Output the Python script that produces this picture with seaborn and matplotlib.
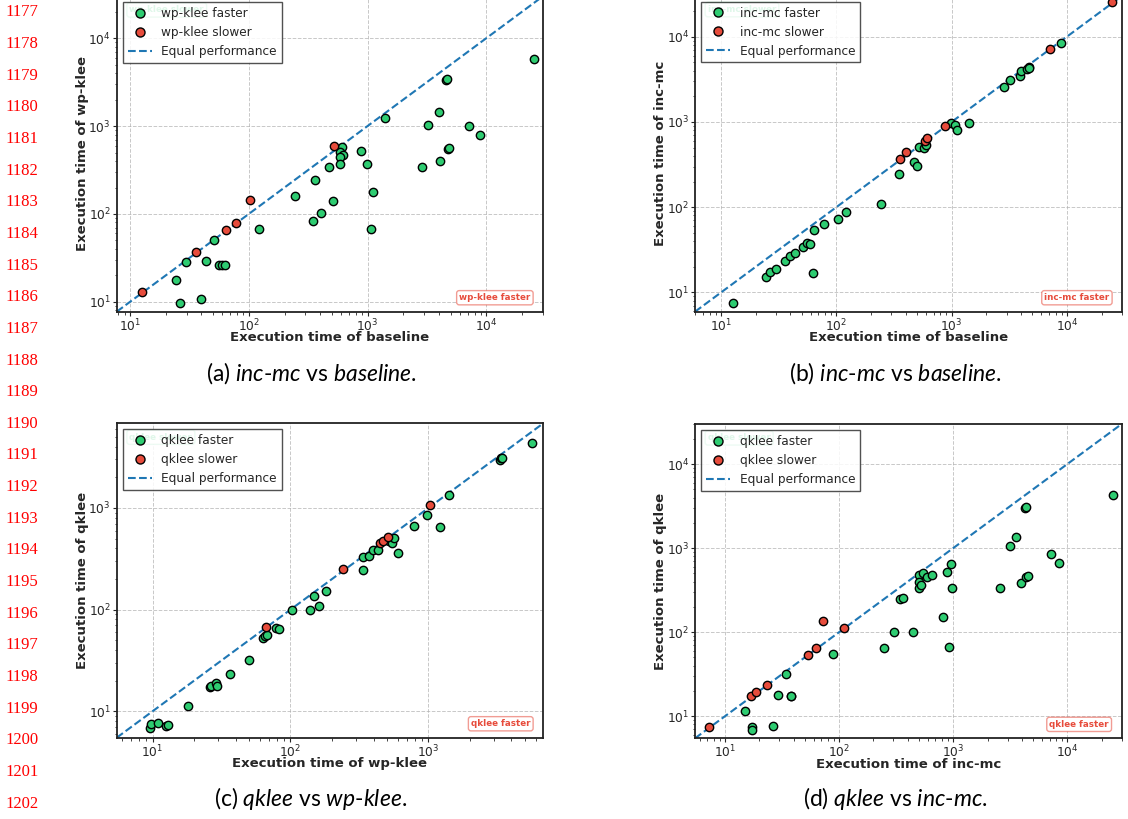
import matplotlib
matplotlib.use("Agg")
import matplotlib.pyplot as plt
from matplotlib.lines import Line2D
import seaborn as sns
import pandas as pd

# ---------------- data ----------------
# (a) wp-klee vs baseline
a_fast_x = [26.3, 39.3, 24.4, 29.9, 44.0, 51.2, 56.4, 59.3, 62.9, 121, 247, 361, 349, 405, 508, 476,
            605, 585, 621, 585, 582, 879, 993, 1117, 1074, 1416, 2877, 3213, 3975, 4105, 4580, 4670,
            4730, 4820, 7195, 8850, 25180]
a_fast_y = [9.66, 10.9, 17.9, 28.7, 29.2, 50.1, 26.3, 26.0, 26.3, 67.4, 161, 243, 82.4, 102, 140, 340,
            574, 508, 470, 450, 375, 517, 368, 180, 67.4, 1236, 338, 1040, 1435, 402, 3365, 3460,
            550, 560, 995, 793, 5780]
a_slow_x = [12.6, 36.1, 64.6, 78.3, 102.6, 521]
a_slow_y = [12.9, 37.0, 65.5, 79.8, 146, 600]

# (b) inc-mc vs baseline
b_fast_x = [12.6, 24.4, 26.4, 30.0, 36.1, 39.4, 44.1, 51.4, 56.1, 59.6, 62.8, 64.5, 78.7, 102.8, 121.4,
            245, 347, 475, 504, 517, 580, 603, 993, 1069, 1120, 1413, 2863, 3185, 3940, 4015, 4470,
            4650, 4710, 8810]
b_fast_y = [7.44, 15.1, 17.5, 18.9, 23.3, 26.7, 28.9, 34.3, 38.2, 37.5, 17.0, 53.4, 63.2, 72.9, 88.1,
            109, 244, 340, 305, 510, 500, 537, 982, 922, 813, 964, 2595, 3135, 3490, 3926, 4220,
            4415, 4340, 8430]
b_slow_x = [359, 404, 583, 615, 875, 7130, 24800]
b_slow_y = [370, 445, 595, 649, 890, 7250, 25200]

# (c) qklee vs wp-klee
c_fast_x = [9.57, 9.68, 10.98, 12.5, 12.97, 17.97, 26.2, 26.6, 28.8, 29.3, 36.5, 50.0, 63.4, 65.9, 67.7,
            78.7, 82.2, 101.9, 139, 147, 160, 180, 335, 337, 374, 397, 434, 518, 544, 566, 598, 780,
            984, 1220, 1409, 3281, 3373, 3411, 5675]
c_fast_y = [6.87, 7.51, 7.63, 7.23, 7.40, 11.37, 17.2, 17.6, 18.8, 17.9, 23.2, 31.8, 52.7, 54.8, 56.0,
            65.6, 64.6, 100, 100, 136, 109, 152, 333, 248, 336, 385, 390, 471, 457, 508, 360, 667,
            853, 646, 1340, 2979, 3070, 3090, 4335]
c_slow_x = [66.5, 241.6, 446, 471, 512, 1028]
c_slow_y = [68.0, 252, 454, 478, 524, 1069]

# (d) qklee vs inc-mc
d_fast_x = [15.0, 17.4, 17.4, 26.5, 29.0, 34.3, 37.7, 38.1, 88.1, 245.6, 304, 341, 367, 445, 499, 499,
            499, 519, 541, 589, 651, 807, 881, 916, 967, 979, 2588, 3120, 3520, 3920, 4246, 4362,
            4390, 4507, 7160, 8400, 25000]
d_fast_y = [11.5, 7.48, 6.83, 7.62, 17.7, 31.7, 17.2, 17.6, 55.7, 65.0, 100, 250, 252, 100, 481, 397,
            340, 360, 512, 451, 481, 151, 521, 67.5, 649, 337, 334, 1069, 1343, 383, 3013, 3098,
            459, 468, 851, 667, 4335]
d_slow_x = [7.25, 16.8, 18.7, 23.2, 53.0, 63.4, 72.9, 109.8]
d_slow_y = [7.4, 17.2, 19.2, 23.6, 54.0, 65.6, 136, 111]

tool_names = ["wp-klee", "inc-mc", "qklee", "qklee"]
x_labels = ["Execution time of baseline", "Execution time of baseline",
            "Execution time of wp-klee", "Execution time of inc-mc"]
y_labels = ["Execution time of wp-klee", "Execution time of inc-mc",
            "Execution time of qklee", "Execution time of qklee"]
captions = [r"(a) $\mathit{inc}$-$\mathit{mc}$ vs $\mathit{baseline}$.",
            r"(b) $\mathit{inc}$-$\mathit{mc}$ vs $\mathit{baseline}$.",
            r"(c) $\mathit{qklee}$ vs $\mathit{wp}$-$\mathit{klee}$.",
            r"(d) $\mathit{qklee}$ vs $\mathit{inc}$-$\mathit{mc}$."]
line_numbers = list(range(1177, 1203))

# ---------------- style ----------------
sns.set_style("ticks")
plt.rcParams["font.family"] = ["DejaVu Sans"]
plt.rcParams["mathtext.fontset"] = "custom"
plt.rcParams["mathtext.rm"] = "Lato"
plt.rcParams["mathtext.it"] = "Lato:italic"

GREEN = "#2ecc71"
RED = "#e74c3c"
BLUE = "#1f77b4"

W, H = 1128, 819
fig = plt.figure(figsize=(W / 100, H / 100), dpi=100)


def px_axes(left, top, right, bottom):
    return fig.add_axes([left / W, (H - bottom) / H, (right - left) / W, (bottom - top) / H])


boxes = [(116.7, -4.0, 543.3, 311.7), (695.0, -4.3, 1122.3, 311.7),
         (116.7, 423.3, 543.3, 737.7), (695.0, 424.0, 1121.7, 738.3)]
panels = [(a_fast_x, a_fast_y, a_slow_x, a_slow_y),
          (b_fast_x, b_fast_y, b_slow_x, b_slow_y),
          (c_fast_x, c_fast_y, c_slow_x, c_slow_y),
          (d_fast_x, d_fast_y, d_slow_x, d_slow_y)]

for i, (box, (fx, fy, sx, sy)) in enumerate(zip(boxes, panels)):
    ax = px_axes(*box)
    name = tool_names[i]
    allv = fx + fy + sx + sy
    lo, hi = min(allv) * 0.8, max(allv) * 1.2
    ax.set_xscale("log")
    ax.set_yscale("log")

    ax.plot([lo, hi], [lo, hi], ls="--", color=BLUE, lw=1.5, zorder=1)
    df_f = pd.DataFrame({"x": fx, "y": fy})
    df_s = pd.DataFrame({"x": sx, "y": sy})
    sns.scatterplot(data=df_f, x="x", y="y", ax=ax, color=GREEN, edgecolor="black",
                    linewidth=1.0, s=36, zorder=3)
    sns.scatterplot(data=df_s, x="x", y="y", ax=ax, color=RED, edgecolor="black",
                    linewidth=1.0, s=36, zorder=3)
    ax.set_xlim(lo, hi)
    ax.set_ylim(lo, hi)

    ax.grid(True, which="major", ls="--", lw=0.7, color="#b0b0b0", alpha=0.7)
    for sp in ax.spines.values():
        sp.set_linewidth(1.3)
        sp.set_color("#222222")
    ax.tick_params(which="major", length=3.0, width=0.8, labelsize=8.8, pad=1.2)
    ax.tick_params(which="minor", length=1.8, width=0.6)
    ax.set_xlabel(x_labels[i], fontsize=9.5, fontweight="bold")
    ax.set_ylabel(y_labels[i], fontsize=9.5, fontweight="bold")
    ax.xaxis.set_label_coords(0.5, -0.062)
    ax.yaxis.set_label_coords(-0.066, 0.5)

    ax.text(0.97, 0.03, f"{name} faster", transform=ax.transAxes, ha="right", va="bottom",
            fontsize=6.3, fontweight="bold", color=RED, zorder=4,
            bbox=dict(boxstyle="round,pad=0.3", fc="white", ec=(0.906, 0.298, 0.235, 0.55), lw=1))
    ax.text(0.03, 0.97, f"{name} slower", transform=ax.transAxes, ha="left", va="top",
            fontsize=6.3, fontweight="bold", color=GREEN, zorder=4,
            bbox=dict(boxstyle="round,pad=0.3", fc="white", ec=(0.18, 0.8, 0.44, 0.55), lw=1))

    handles = [
        Line2D([], [], ls="none", marker="o", markersize=6.5, markerfacecolor=GREEN,
               markeredgecolor="black", markeredgewidth=1.0),
        Line2D([], [], ls="none", marker="o", markersize=6.5, markerfacecolor=RED,
               markeredgecolor="black", markeredgewidth=1.0),
        Line2D([], [], ls="--", color=BLUE, lw=1.5),
    ]
    leg = ax.legend(handles, [f"{name} faster", f"{name} slower", "Equal performance"],
                    loc="upper left", fontsize=8.7, fancybox=False, framealpha=0.85,
                    edgecolor="#333333")
    leg.get_frame().set_linewidth(1.0)
    leg.set_zorder(10)

# captions (baseline positions in pixels)
cap_pos = [(312, 381), (895, 381), (311, 806), (895, 806)]
for (cx, cy), cap in zip(cap_pos, captions):
    fig.text(cx / W, (H - cy) / H, cap, ha="center", va="baseline", fontsize=16.5,
             family="Lato", color="black")

# line numbers
for k, n in enumerate(line_numbers):
    y = 12.5 + k * 31.64
    fig.text(5 / W, (H - y) / H, str(n), ha="left", va="center", fontsize=12,
             family="Liberation Serif", color="red")

fig.savefig("out.png", dpi=100)
